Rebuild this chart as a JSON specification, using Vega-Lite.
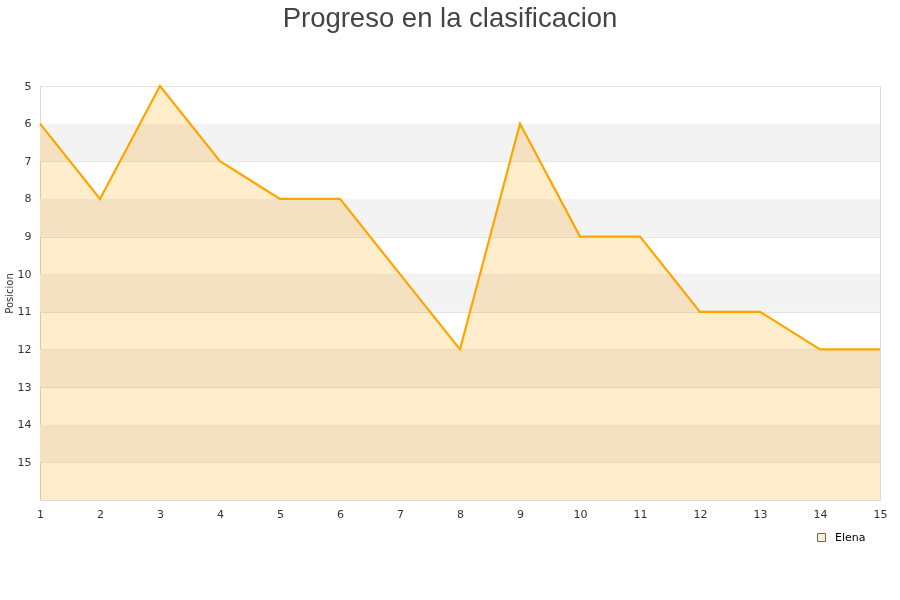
{
  "$schema": "https://vega.github.io/schema/vega-lite/v6.json",
  "width": 840,
  "height": 414,
  "autosize": {"type": "none"},
  "padding": {"left": 40, "top": 86, "right": 20, "bottom": 100},
  "background": "white",
  "title": {
    "text": "Progreso en la clasificacion",
    "font": "Liberation Sans",
    "fontSize": 27.5,
    "fontWeight": "normal",
    "color": "#444444",
    "anchor": "middle",
    "dx": -10,
    "offset": 48
  },
  "config": {
    "view": {"stroke": "#d9d9d9", "strokeWidth": 1},
    "axis": {
      "labelFont": "DejaVu Sans",
      "labelFontSize": 11,
      "labelColor": "#333333",
      "titleFont": "DejaVu Sans",
      "titleFontSize": 10,
      "titleFontWeight": "normal",
      "titleColor": "#333333"
    }
  },
  "datasets": {
    "bandas": [
      {"desde": 6, "hasta": 7},
      {"desde": 8, "hasta": 9},
      {"desde": 10, "hasta": 11},
      {"desde": 12, "hasta": 13},
      {"desde": 14, "hasta": 15}
    ],
    "progreso": [
      {"jornada": 1, "posicion": 6, "jugador": "Elena"},
      {"jornada": 2, "posicion": 8, "jugador": "Elena"},
      {"jornada": 3, "posicion": 5, "jugador": "Elena"},
      {"jornada": 4, "posicion": 7, "jugador": "Elena"},
      {"jornada": 5, "posicion": 8, "jugador": "Elena"},
      {"jornada": 6, "posicion": 8, "jugador": "Elena"},
      {"jornada": 7, "posicion": 10, "jugador": "Elena"},
      {"jornada": 8, "posicion": 12, "jugador": "Elena"},
      {"jornada": 9, "posicion": 6, "jugador": "Elena"},
      {"jornada": 10, "posicion": 9, "jugador": "Elena"},
      {"jornada": 11, "posicion": 9, "jugador": "Elena"},
      {"jornada": 12, "posicion": 11, "jugador": "Elena"},
      {"jornada": 13, "posicion": 11, "jugador": "Elena"},
      {"jornada": 14, "posicion": 12, "jugador": "Elena"},
      {"jornada": 15, "posicion": 12, "jugador": "Elena"}
    ]
  },
  "layer": [
    {
      "data": {"name": "bandas"},
      "mark": {"type": "rect", "fill": "#f3f3f3"},
      "encoding": {
        "y": {
          "field": "desde",
          "type": "quantitative",
          "scale": {"domain": [5, 16], "reverse": true, "nice": false, "zero": false},
          "axis": {
            "values": [5, 6, 7, 8, 9, 10, 11, 12, 13, 14, 15],
            "title": "Posicion",
            "titlePadding": 3,
            "domain": false,
            "ticks": false,
            "labelPadding": 9,
            "grid": true,
            "gridColor": "#e3e3e3",
            "gridWidth": 1
          }
        },
        "y2": {"field": "hasta"}
      }
    },
    {
      "data": {"name": "progreso"},
      "mark": {"type": "area", "fillOpacity": 1, "blend": "multiply", "line": false},
      "encoding": {
        "x": {
          "field": "jornada",
          "type": "quantitative",
          "scale": {"domain": [1, 15], "nice": false, "zero": false},
          "axis": {
            "values": [1, 2, 3, 4, 5, 6, 7, 8, 9, 10, 11, 12, 13, 14, 15],
            "format": "d",
            "title": null,
            "domain": false,
            "ticks": false,
            "grid": false,
            "labelPadding": 8,
            "labelFlush": false
          }
        },
        "y": {"field": "posicion", "type": "quantitative"},
        "y2": {"datum": 16},
        "fill": {
          "field": "jugador",
          "type": "nominal",
          "scale": {"range": ["#ffedcc"]},
          "legend": {
            "title": null,
            "orient": "none",
            "legendX": 774,
            "legendY": 444,
            "symbolType": "square",
            "symbolSize": 64,
            "symbolStrokeColor": "#666666",
            "symbolStrokeWidth": 1,
            "labelFont": "DejaVu Sans",
            "labelFontSize": 11,
            "labelColor": "#000000",
            "labelOffset": 8,
            "fillColor": "white",
            "padding": 2
          }
        }
      }
    },
    {
      "data": {"name": "progreso"},
      "mark": {"type": "line", "color": "#ffa500", "strokeWidth": 2.2},
      "encoding": {
        "x": {"field": "jornada", "type": "quantitative"},
        "y": {"field": "posicion", "type": "quantitative"}
      }
    }
  ]
}
